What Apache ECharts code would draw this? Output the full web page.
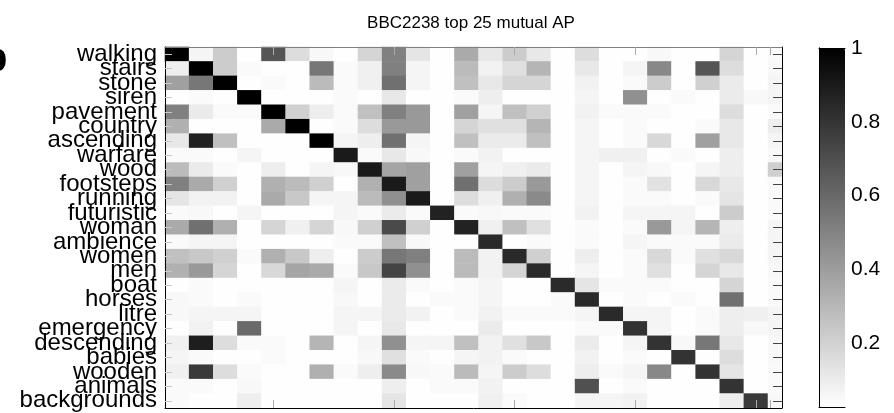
<!DOCTYPE html>
<html>
<head>
<meta charset="utf-8">
<script src="https://cdn.jsdelivr.net/npm/echarts@6/dist/echarts.min.js"></script>
<style>
  html, body { margin: 0; padding: 0; background: #fff; }
  #chart { width: 894px; height: 413px; }
</style>
</head>
<body>
<div id="chart"></div>
<script>
// Tag names, one per row/column of the mutual-AP matrix
const tagNames = ['walking', 'stairs', 'stone', 'siren', 'pavement', 'country', 'ascending',
  'warfare', 'wood', 'footsteps', 'running', 'futuristic', 'woman', 'ambience', 'women', 'men',
  'boat', 'horses', 'litre', 'emergency', 'descending', 'babies', 'wooden', 'animals', 'backgrounds'];

// Mutual AP values, row r = query tag, column c = retrieved tag
const apMatrix = [
  [1, .065, .22, .03, .676, .156, .053, .03, .187, .511, .126, .03, .351, .114, .22, .114, .03, .156, .03, .03, .053, .03, .03, .187, .03],
  [.092, 1, .22, .046, .03, .03, .545, .046, .084, .511, .065, .03, .286, .076, .145, .309, .03, .114, .03, .065, .481, .03, .676, .156, .03],
  [.39, .545, 1, .03, .046, .03, .286, .046, .084, .573, .065, .03, .267, .114, .187, .187, .03, .076, .03, .046, .22, .03, .205, .102, .03],
  [.03, .046, .03, 1, .03, .03, .03, .046, .03, .114, .03, .03, .046, .092, .03, .03, .03, .065, .03, .45, .03, .046, .03, .102, .053],
  [.511, .102, .046, .046, 1, .205, .092, .046, .267, .511, .416, .03, .39, .065, .267, .205, .03, .076, .046, .046, .046, .03, .03, .156, .03],
  [.329, .03, .03, .03, .351, 1, .03, .046, .156, .416, .416, .03, .187, .145, .145, .309, .03, .065, .03, .046, .03, .03, .046, .114, .03],
  [.114, .87, .267, .03, .03, .03, 1, .065, .092, .573, .065, .03, .267, .102, .102, .267, .03, .065, .03, .046, .175, .03, .39, .114, .03],
  [.046, .046, .03, .065, .03, .03, .03, .9, .046, .114, .053, .03, .046, .076, .03, .03, .03, .065, .084, .084, .03, .046, .03, .092, .03],
  [.286, .102, .046, .03, .092, .03, .065, .053, .9, .37, .39, .03, .39, .065, .084, .102, .03, .065, .03, .065, .053, .03, .065, .092, .03],
  [.511, .351, .205, .03, .329, .286, .205, .03, .329, .9, .39, .03, .573, .156, .22, .416, .03, .065, .03, .046, .137, .03, .175, .114, .03],
  [.126, .076, .076, .03, .351, .237, .065, .065, .286, .45, .9, .03, .156, .084, .329, .473, .03, .065, .03, .046, .046, .03, .046, .126, .03],
  [.046, .053, .03, .065, .03, .03, .03, .065, .046, .102, .046, .87, .046, .053, .046, .046, .03, .076, .03, .065, .065, .065, .03, .22, .03],
  [.351, .573, .329, .03, .187, .084, .187, .053, .205, .718, .205, .03, .87, .084, .267, .145, .03, .046, .03, .046, .416, .065, .309, .092, .03],
  [.046, .065, .065, .03, .03, .03, .03, .046, .046, .267, .053, .03, .03, .839, .03, .046, .03, .046, .03, .065, .046, .046, .046, .102, .03],
  [.267, .237, .205, .046, .329, .237, .092, .03, .22, .545, .511, .03, .286, .076, .839, .205, .03, .092, .03, .046, .175, .046, .145, .175, .03],
  [.329, .416, .187, .03, .175, .37, .351, .046, .237, .74, .45, .03, .286, .076, .187, .839, .03, .065, .03, .046, .145, .03, .187, .114, .03],
  [.03, .046, .03, .03, .03, .03, .03, .065, .03, .102, .046, .03, .046, .065, .03, .03, .839, .126, .046, .046, .046, .03, .03, .187, .03],
  [.053, .046, .03, .046, .03, .03, .03, .053, .03, .102, .03, .046, .046, .065, .03, .03, .046, .839, .03, .046, .03, .046, .03, .573, .03],
  [.053, .065, .065, .065, .03, .03, .03, .065, .065, .102, .076, .03, .046, .076, .046, .046, .046, .065, .839, .065, .065, .03, .046, .092, .084],
  [.03, .076, .03, .595, .03, .03, .03, .065, .03, .114, .03, .03, .03, .102, .03, .03, .03, .046, .046, .805, .065, .03, .046, .092, .053],
  [.084, .885, .156, .046, .046, .03, .309, .03, .065, .45, .065, .065, .267, .076, .145, .237, .03, .102, .03, .065, .805, .053, .545, .114, .03],
  [.065, .046, .03, .03, .046, .03, .03, .03, .053, .145, .046, .03, .065, .076, .046, .03, .03, .076, .03, .046, .03, .805, .03, .156, .03],
  [.084, .779, .156, .046, .03, .03, .329, .046, .092, .473, .053, .046, .286, .065, .22, .156, .03, .092, .046, .065, .481, .03, .805, .126, .03],
  [.046, .046, .03, .053, .03, .03, .03, .03, .03, .092, .03, .046, .046, .076, .03, .03, .03, .695, .03, .046, .03, .03, .03, .805, .03],
  [.046, .03, .03, .092, .03, .03, .03, .03, .03, .126, .03, .03, .03, .084, .046, .03, .03, .065, .065, .076, .03, .03, .03, .092, .779]
];

// Partially shown extra column at the right edge of the axes
const trailingColumn = [.046, .053, .065, .065, .046, .092, .065, .053, .205, .046, .046, .046, .065,
  .065, .065, .053, .046, .046, .065, .065, .053, .053, .046, .046, .053];

// Axis tick positions (1-based column units) and colour-bar tick labels
const xTickMarks = [5, 10, 15, 20, 25, 25.6];
const colorbarTicks = [0.2, 0.4, 0.6, 0.8, 1];
const colorRange = [0.0265, 1];

const mainCells = [];
apMatrix.forEach((row, r) => row.forEach((v, c) => mainCells.push([c, r, v])));
const tailCells = trailingColumn.map((v, r) => [0, r, v]);

const FONT = 'Liberation Sans, Arial, Helvetica, sans-serif';
const plotTop = 47, plotBottom = 5;

const chart = echarts.init(document.getElementById('chart'), null, { renderer: 'canvas' });

chart.setOption({
  animation: false,
  backgroundColor: '#ffffff',
  title: {
    text: 'BBC2238 top 25 mutual AP',
    left: 466,
    top: 10,
    textAlign: 'center',
    textStyle: { fontFamily: FONT, fontSize: 17, fontWeight: 'normal', color: '#000' }
  },
  graphic: [{
    type: 'text',
    x: -17,
    y: 60,
    style: { text: 'b', font: 'bold 40px ' + FONT, fill: '#000', textVerticalAlign: 'middle' }
  }],
  grid: [
    // matrix cells
    { left: 165, right: 126, top: plotTop, bottom: plotBottom },
    // clipped trailing column
    { left: 768, right: 112, top: plotTop, bottom: plotBottom },
    // axes frame
    { left: 165, right: 112, top: plotTop, bottom: plotBottom },
    // colour bar frame
    { left: 819, right: 49, top: 48, bottom: 6 }
  ],
  xAxis: [
    { gridIndex: 0, type: 'category', data: tagNames, show: false },
    { gridIndex: 1, type: 'category', data: [''], show: false },
    {
      gridIndex: 2, type: 'value', position: 'bottom', min: 0.5, max: 26.08, z: 10,
      splitLine: { show: false },
      axisLine: { show: true, lineStyle: { color: '#000', width: 1 } },
      axisTick: { show: true, inside: true, length: 8, customValues: xTickMarks, lineStyle: { color: '#aaa' } },
      axisLabel: { show: false }
    },
    {
      gridIndex: 2, type: 'value', position: 'top', min: 0.5, max: 26.08, z: 10,
      splitLine: { show: false },
      axisLine: { show: true, lineStyle: { color: '#808080', width: 1 } },
      axisTick: { show: true, inside: true, length: 8, customValues: xTickMarks, lineStyle: { color: '#aaa' } },
      axisLabel: { show: false }
    },
    {
      gridIndex: 3, type: 'value', position: 'bottom', min: 0, max: 1, z: 10,
      splitLine: { show: false }, axisTick: { show: false }, axisLabel: { show: false },
      axisLine: { show: true, lineStyle: { color: '#000' } }
    },
    {
      gridIndex: 3, type: 'value', position: 'top', min: 0, max: 1, z: 10,
      splitLine: { show: false }, axisTick: { show: false }, axisLabel: { show: false },
      axisLine: { show: true, lineStyle: { color: '#000' } }
    }
  ],
  yAxis: [
    {
      gridIndex: 0, type: 'category', data: tagNames, inverse: true, position: 'left', z: 10,
      axisLine: { show: true, lineStyle: { color: '#000', width: 1 } },
      axisTick: { show: true, inside: true, length: 7, alignWithLabel: true, interval: 0, lineStyle: { color: '#c8c8c8' } },
      axisLabel: { interval: 0, margin: 8, fontFamily: FONT, fontSize: 24, color: '#000' }
    },
    { gridIndex: 1, type: 'category', data: tagNames, inverse: true, show: false },
    {
      gridIndex: 2, type: 'category', data: tagNames, inverse: true, position: 'right', z: 10,
      axisLine: { show: true, lineStyle: { color: '#000', width: 1 } },
      axisTick: { show: true, inside: true, length: 9, alignWithLabel: true, interval: 0, lineStyle: { color: '#444' } },
      axisLabel: { show: false }
    },
    {
      gridIndex: 3, type: 'value', position: 'right', min: colorRange[0], max: colorRange[1], z: 10,
      splitLine: { show: false },
      axisLine: { show: true, lineStyle: { color: '#000' } },
      axisTick: { show: false },
      axisLabel: {
        show: true, customValues: colorbarTicks, margin: 6,
        fontFamily: FONT, fontSize: 21, color: '#000',
        formatter: (v) => String(Math.round(v * 10) / 10)
      }
    },
    {
      gridIndex: 3, type: 'value', position: 'left', min: colorRange[0], max: colorRange[1], z: 10,
      splitLine: { show: false }, axisTick: { show: false }, axisLabel: { show: false },
      axisLine: { show: true, lineStyle: { color: '#000' } }
    }
  ],
  visualMap: {
    type: 'continuous',
    seriesIndex: [0, 1],
    min: colorRange[0],
    max: colorRange[1],
    calculable: false,
    hoverLink: false,
    realtime: false,
    orient: 'vertical',
    left: 819,
    top: 48,
    padding: 0,
    itemWidth: 26,
    itemHeight: 359,
    text: null,
    showLabel: false,
    inRange: { color: ['#ffffff', '#000000'] }
  },
  series: [
    {
      type: 'heatmap', xAxisIndex: 0, yAxisIndex: 0, data: mainCells,
      itemStyle: { borderWidth: 0 }, emphasis: { disabled: true }, progressive: 0
    },
    {
      type: 'heatmap', xAxisIndex: 1, yAxisIndex: 1, data: tailCells,
      itemStyle: { borderWidth: 0 }, emphasis: { disabled: true }, progressive: 0
    }
  ]
});
</script>
</body>
</html>
